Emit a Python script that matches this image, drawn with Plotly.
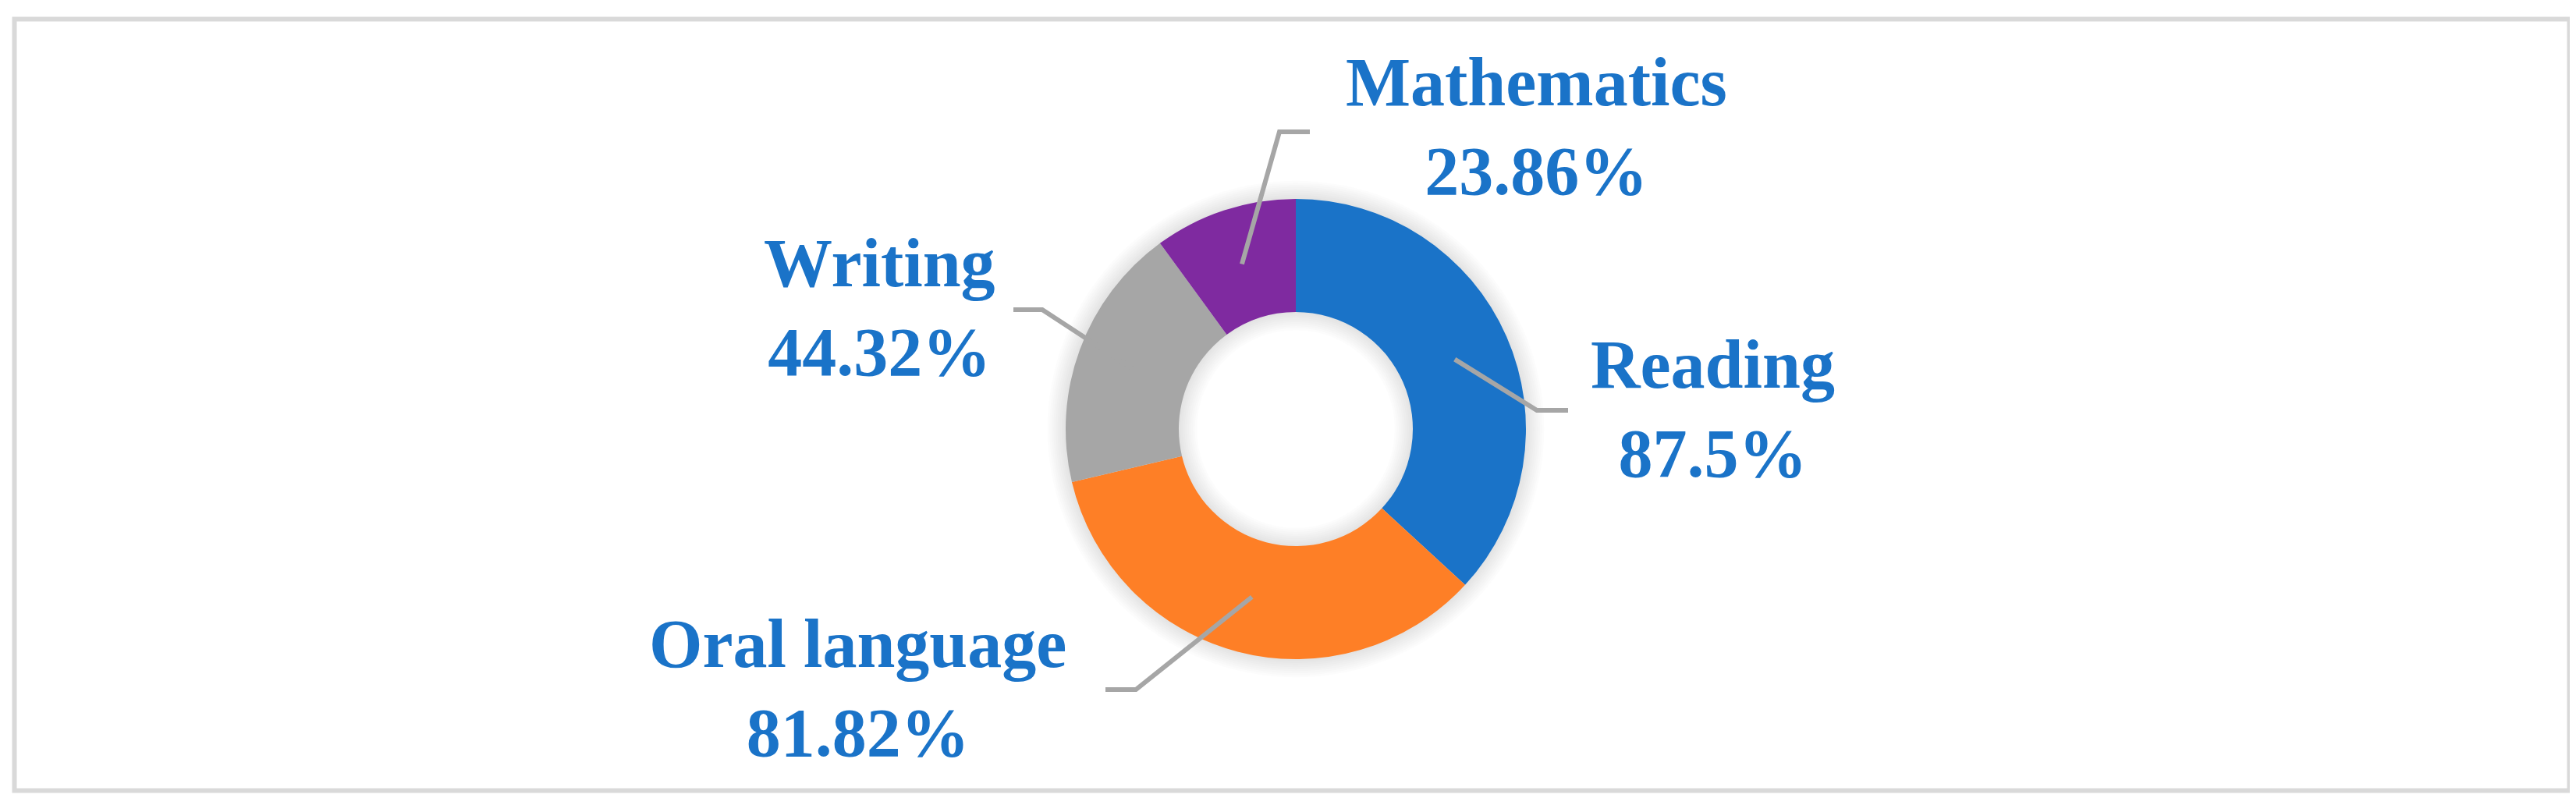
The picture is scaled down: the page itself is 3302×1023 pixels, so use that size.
import math
import plotly.graph_objects as go

# ---- data ----
categories = ["Reading", "Oral language", "Writing", "Mathematics"]
values = [87.5, 81.82, 44.32, 23.86]
label_texts = ["87.5%", "81.82%", "44.32%", "23.86%"]
colors = ["#1A73C8", "#FE7F26", "#A6A6A6", "#7F2AA0"]

# ---- layout constants (pixels) ----
W, H = 3302, 1023
CX, CY, R = 1653, 542, 295
R_IN = 150
HOLE = R_IN / R
FS = 88
TEXT_COLOR = "#1A73C8"
LINE_COLOR = "#A6A6A6"
FONT_FAMILY = "Palatino Linotype, Book Antiqua, Palatino, Liberation Serif, serif"
# label centres (x, y of midpoint between the two baselines) and leader elbow/end
label_pos = {
    "Reading": (2187, 546),
    "Oral language": (1091, 904),
    "Writing": (1119, 416),
    "Mathematics": (1961, 184),
}
leader_pts = {
    "Reading": [(1962, 518), (2002, 518)],
    "Oral language": [(1448, 876), (1409, 876)],
    "Writing": [(1328, 389), (1291, 389)],
    "Mathematics": [(1632, 161), (1671, 161)],
}


def px(x):
    return x / W


def py(y):
    return 1 - y / H


def dom(r):
    return dict(x=[px(CX - r), px(CX + r)], y=[py(CY + r), py(CY - r)])


fig = go.Figure()

# soft shadow around the ring (stacked translucent rings)
N_SH = 9
for i in range(N_SH, 0, -1):
    ro = R + 2.6 * i
    ri = R_IN - 2.6 * i
    fig.add_trace(go.Pie(
        values=[1], sort=False, hole=ri / ro,
        marker=dict(colors=["rgba(0,0,0,0.013)"], line=dict(width=0)),
        textinfo="none", hoverinfo="skip", showlegend=False,
        domain=dom(ro),
    ))

fig.add_trace(go.Pie(
    labels=categories,
    values=values,
    sort=False,
    direction="clockwise",
    rotation=0,
    hole=HOLE,
    marker=dict(colors=colors, line=dict(width=0)),
    textinfo="none",
    hoverinfo="skip",
    showlegend=False,
    domain=dom(R),
))

shapes = []
annotations = []
total = sum(values)
cum = 0.0
r_mid = (R + R_IN) / 2
for cat, val, txt in zip(categories, values, label_texts):
    mid = (cum + val / 2) / total * 2 * math.pi
    cum += val
    sx = CX + r_mid * math.sin(mid)
    sy = CY - r_mid * math.cos(mid)
    (ex, ey), (tx, ty) = leader_pts[cat]
    path = f"M {px(sx)},{py(sy)} L {px(ex)},{py(ey)} L {px(tx)},{py(ty)}"
    shapes.append(dict(type="path", xref="paper", yref="paper", path=path,
                       line=dict(color=LINE_COLOR, width=6)))
    lx, ly = label_pos[cat]
    annotations.append(dict(
        x=px(lx), y=py(ly - 0.34 * FS), xref="paper", yref="paper",
        xanchor="center", yanchor="middle", showarrow=False,
        text=f"{cat}<br>{txt}", align="center",
        font=dict(family=FONT_FAMILY, size=FS, color=TEXT_COLOR, weight="bold"),
    ))

# outer border
shapes.append(dict(type="rect", xref="paper", yref="paper",
                   x0=px(10.5), x1=px(3285.5), y0=py(1005.5), y1=py(16.5),
                   line=dict(color="#D9D9D9", width=6), layer="below"))

fig.update_layout(
    width=W, height=H,
    margin=dict(l=0, r=0, t=0, b=0),
    paper_bgcolor="white",
    plot_bgcolor="white",
    shapes=shapes,
    annotations=annotations,
)

fig.write_html("out.html")
